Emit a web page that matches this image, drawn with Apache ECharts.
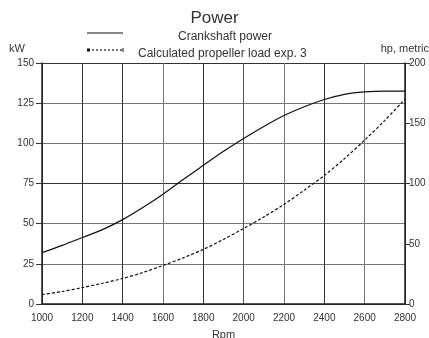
<!DOCTYPE html>
<html><head><meta charset="utf-8">
<script src="https://cdn.jsdelivr.net/npm/echarts@6/dist/echarts.min.js"></script>
<style>html,body{margin:0;padding:0;background:#fff}#c{width:429px;height:338px}</style>
</head><body><div id="c"></div>
<script>
const rpm = [1000, 1100, 1200, 1300, 1400, 1500, 1600, 1700, 1800, 1900, 2000, 2100, 2200, 2300, 2400, 2500, 2600, 2700, 2800];
const crankshaftKW = [32, 36.5, 41.4, 46.3, 52.5, 60, 68.3, 77.5, 86.3, 95, 103, 110.5, 117.3, 122.8, 127.3, 130.5, 132, 132.5, 132.5];
const propellerKW = [5.8, 7.8, 10.2, 12.9, 15.9, 19.6, 24, 28.7, 34, 40.2, 47, 54.2, 62, 70.8, 80, 90.5, 102, 114.3, 127.5];
const kwTicks = [0, 25, 50, 75, 100, 125, 150];
const hpTicks = [0, 50, 100, 150, 200];

const font = 'Liberation Sans';
const txt = '#333';
const chart = echarts.init(document.getElementById('c'));
chart.setOption({
  animation: false,
  title: {text: 'Power', left: 'center', top: 5, textStyle: {fontFamily: font, fontWeight: 'normal', fontSize: 17, color: txt}},
  legend: [
    {data: ['Crankshaft power'], left: 87, top: 26, itemWidth: 36, itemHeight: 10, icon: 'none',
     textStyle: {fontFamily: font, fontSize: 12, color: txt, padding: [0, 0, 0, 45]}},
    {data: ['Calculated propeller load exp. 3'], left: 87, top: 43, itemWidth: 36, itemHeight: 10, icon: 'none',
     textStyle: {fontFamily: font, fontSize: 12, color: txt, padding: [0, 0, 0, 5]}}
  ],
  graphic: [
    {type: 'line', shape: {x1: 87, y1: 33, x2: 123, y2: 33}, style: {stroke: '#111', lineWidth: 1.2}},
    {type: 'line', shape: {x1: 88, y1: 50, x2: 123, y2: 50}, style: {stroke: '#111', lineWidth: 1.2, lineDash: [2, 2]}},
    {type: 'rect', shape: {x: 87, y: 48.5, width: 3, height: 3}, style: {fill: '#111'}},
    {type: 'line', shape: {x1: 123, y1: 48, x2: 123, y2: 52}, style: {stroke: '#111', lineWidth: 1}}
  ],
  grid: {left: 42, right: 24, top: 63, bottom: 34, outerBoundsMode: 'none', containLabel: false},
  xAxis: {
    type: 'value', min: 1000, max: 2800, interval: 200,
    name: 'Rpm', nameLocation: 'middle', nameGap: 25,
    nameTextStyle: {fontFamily: font, fontSize: 11, color: txt},
    axisLine: {lineStyle: {color: '#222', width: 1.5}},
    axisTick: {show: false},
    axisLabel: {fontFamily: font, fontSize: 10, color: txt, margin: 9, formatter: v => String(v)},
    splitLine: {show: true, lineStyle: {color: ['#333', '#333', '#333', '#777', '#333', '#555', '#777', '#333', '#777', '#333'], width: 1}}
  },
  yAxis: [
    {
      type: 'value', min: 0, max: 150, interval: 25, position: 'left',
      name: 'kW', nameLocation: 'end', nameGap: 9,
      nameTextStyle: {fontFamily: font, fontSize: 11, color: txt, align: 'right', padding: [0, 17, 0, 0]},
      axisLine: {show: true, lineStyle: {color: '#222', width: 1.5}},
      axisTick: {show: true, length: 6, lineStyle: {color: '#333'}},
      axisLabel: {fontFamily: font, fontSize: 10, color: txt, margin: 8},
      splitLine: {show: true, lineStyle: {color: ['#333', '#777', '#777'], width: 1}}
    },
    {
      type: 'value', min: 0, max: 200, interval: 50, position: 'right',
      name: 'hp, metric', nameLocation: 'end', nameGap: 9,
      nameTextStyle: {fontFamily: font, fontSize: 11, color: txt, align: 'right', padding: [0, -24, 0, 0]},
      axisLine: {show: true, lineStyle: {color: '#222', width: 1.5}},
      axisTick: {show: true, length: 5, lineStyle: {color: '#333'}},
      axisLabel: {fontFamily: font, fontSize: 10, color: txt, margin: 4},
      splitLine: {show: false}
    }
  ],
  series: [
    {name: 'Crankshaft power', type: 'line', smooth: 0.3, symbol: 'none', yAxisIndex: 0,
     data: rpm.map((r, i) => [r, crankshaftKW[i]]), lineStyle: {color: '#111', width: 1.2}, itemStyle: {color: '#111'}},
    {name: 'Calculated propeller load exp. 3', type: 'line', smooth: 0.3, symbol: 'none', yAxisIndex: 0,
     data: rpm.map((r, i) => [r, propellerKW[i]]), lineStyle: {color: '#111', width: 1.2, type: [3, 2]}, itemStyle: {color: '#111'}}
  ]
});
</script></body></html>
